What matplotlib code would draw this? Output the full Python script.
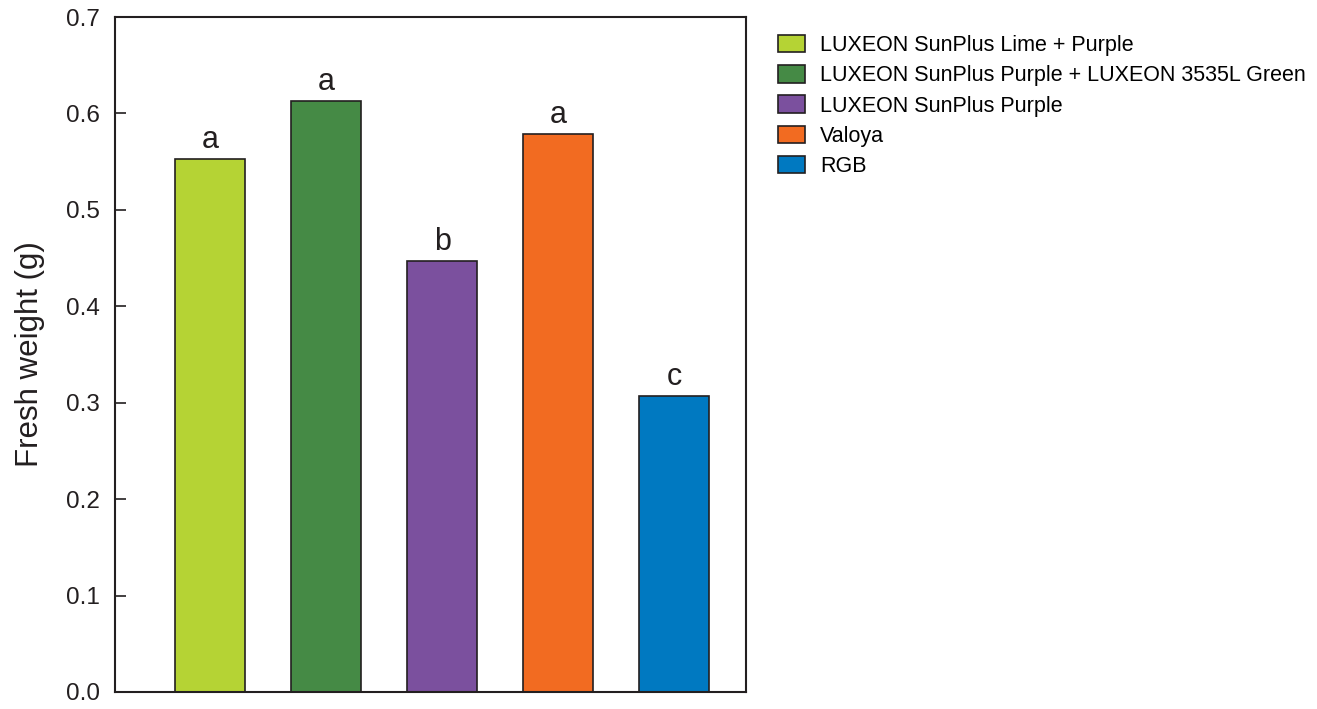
import matplotlib.pyplot as plt

plt.rcParams['font.family'] = ['Liberation Sans', 'DejaVu Sans']

# data
treatments = ['LUXEON SunPlus Lime + Purple',
              'LUXEON SunPlus Purple + LUXEON 3535L Green',
              'LUXEON SunPlus Purple',
              'Valoya',
              'RGB']
fresh_weight = [0.553, 0.613, 0.447, 0.579, 0.307]
letters = ['a', 'a', 'b', 'a', 'c']
colors = ['#b5d334', '#458a45', '#7b509e', '#f26b21', '#0079c1']

fig = plt.figure(figsize=(13.17, 7.09), dpi=100)
ax = fig.add_axes([0.0873, 0.024, 0.4791, 0.952])

x = list(range(len(treatments)))
ax.bar(x, fresh_weight, width=0.6, color=colors, edgecolor='#231f20', linewidth=1.2)

for xi, v, t in zip(x, fresh_weight, letters):
    ax.text(xi, v + 0.004, t, ha='center', va='bottom', fontsize=22, color='#231f20')

ax.set_xlim(-0.82, 4.62)
ax.set_ylim(0, 0.7)
ax.set_yticks([0, 0.1, 0.2, 0.3, 0.4, 0.5, 0.6, 0.7])
ax.set_yticklabels(['0.0', '0.1', '0.2', '0.3', '0.4', '0.5', '0.6', '0.7'])
ax.set_xticks([])
ax.tick_params(axis='y', direction='in', length=8, width=1.2, labelsize=17.5,
               colors='#231f20', pad=11)
for s in ax.spines.values():
    s.set_linewidth(1.5)
    s.set_color('#231f20')
ax.set_ylabel('Fresh weight (g)', fontsize=22.5, color='#231f20', labelpad=15)

handles = [plt.Rectangle((0, 0), 1, 1, facecolor=c, edgecolor='#231f20', linewidth=1.2)
           for c in colors]
fig.legend(handles, treatments, loc='upper left', bbox_to_anchor=(0.5907, 0.951),
           frameon=False, fontsize=15.5,
           handlelength=1.25, handleheight=0.88,
           handletextpad=0.7, labelspacing=0.42, borderaxespad=0, borderpad=0)

fig.savefig('out.png', dpi=100)
